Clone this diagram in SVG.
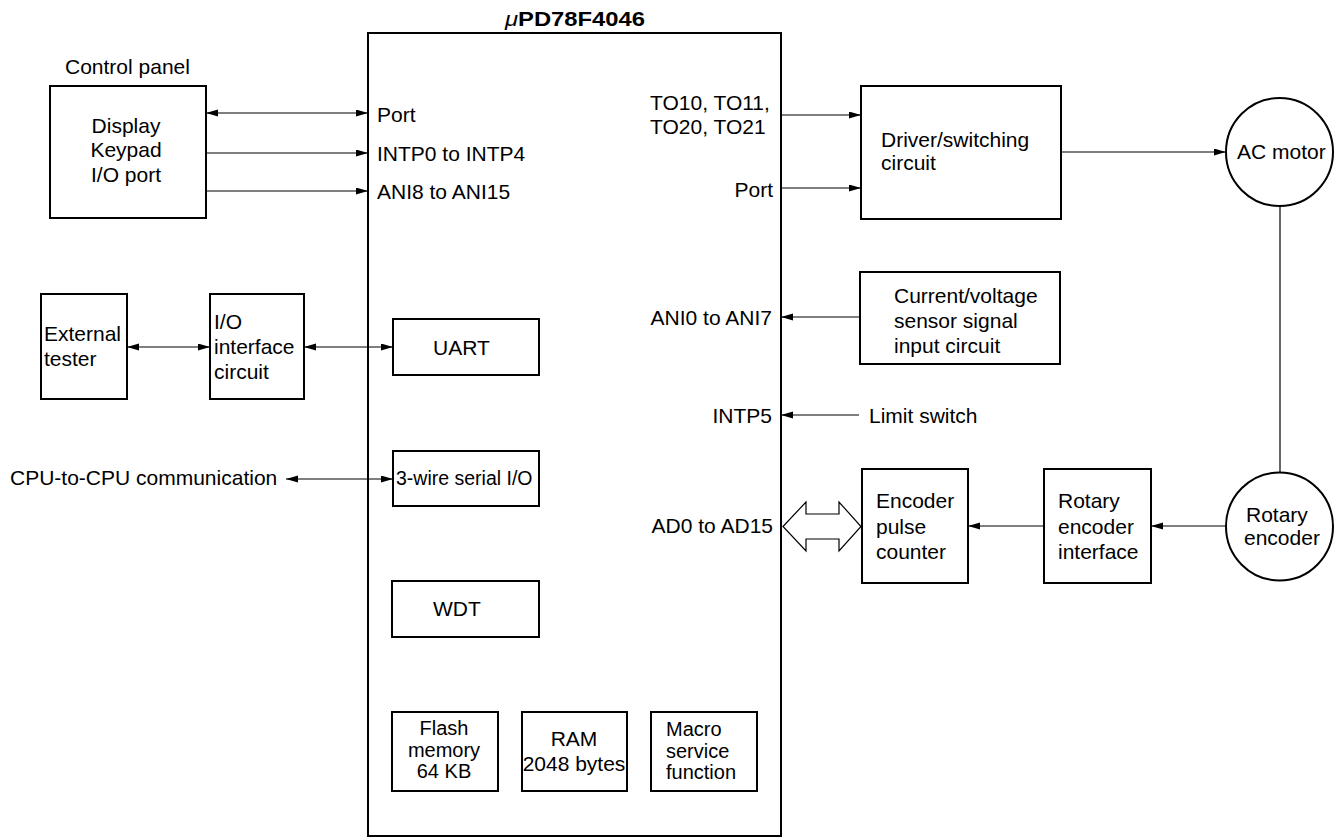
<svg xmlns="http://www.w3.org/2000/svg" width="1341" height="840" viewBox="0 0 1341 840">
<style>
  .box { fill: #ffffff; stroke: #000000; stroke-width: 2; }
  .ell { fill: #ffffff; stroke: #000000; stroke-width: 2; }
  .ln { fill: none; stroke: #000000; stroke-width: 1.2; }
  .t { font-family: "Liberation Sans", Arial, sans-serif; font-size: 21px; fill: #000000; }
  .s { font-size: 20px; }
  .m { text-anchor: middle; }
  .e { text-anchor: end; }
  .title { font-family: "Liberation Sans", Arial, sans-serif; font-size: 21px; font-weight: bold; fill: #000000; }
</style>
<defs>
  <marker id="ah" markerUnits="userSpaceOnUse" markerWidth="13" markerHeight="8" refX="12" refY="3.5" orient="auto-start-reverse" viewBox="0 0 13 8">
    <path d="M0,0 L12,3.5 L0,7 Z" fill="#000000"/>
  </marker>
</defs>
<rect width="1341" height="840" fill="#ffffff"/>

<g id="mcu">
  <rect class="box" x="368" y="33" width="413" height="803"/>
  <text class="title" x="505" y="26" textLength="140" lengthAdjust="spacingAndGlyphs"><tspan font-style="italic" font-weight="normal">μ</tspan>PD78F4046</text>
  <text class="t" x="377" y="122">Port</text>
  <text class="t" x="377" y="161">INTP0 to INTP4</text>
  <text class="t" x="377" y="199">ANI8 to ANI15</text>
  <text class="t" x="650" y="110">TO10, TO11,</text>
  <text class="t" x="650" y="134">TO20, TO21</text>
  <text class="t e" x="773" y="197">Port</text>
  <text class="t e" x="772" y="325">ANI0 to ANI7</text>
  <text class="t e" x="772" y="423">INTP5</text>
  <text class="t e" x="773" y="533">AD0 to AD15</text>
</g>

<g id="uart">
  <rect class="box" x="393" y="319" width="146" height="56"/>
  <text class="t" x="433" y="355">UART</text>
</g>
<g id="sio">
  <rect class="box" x="393" y="451" width="146" height="55"/>
  <text class="t" x="396" y="485" style="font-size:19.5px">3-wire serial I/O</text>
</g>
<g id="wdt">
  <rect class="box" x="392" y="581" width="147" height="56"/>
  <text class="t" x="433" y="616">WDT</text>
</g>
<g id="flash">
  <rect class="box" x="392" y="712" width="106" height="79"/>
  <text class="t s m" x="444" y="735">Flash</text>
  <text class="t s m" x="444" y="757">memory</text>
  <text class="t s m" x="444" y="778">64 KB</text>
</g>
<g id="ram">
  <rect class="box" x="522" y="712" width="105" height="79"/>
  <text class="t m" x="574" y="746">RAM</text>
  <text class="t m" x="574" y="771">2048 bytes</text>
</g>
<g id="macro">
  <rect class="box" x="651" y="712" width="106" height="79"/>
  <text class="t s" x="666" y="736">Macro</text>
  <text class="t s" x="666" y="758">service</text>
  <text class="t s" x="666" y="779">function</text>
</g>

<g id="control-panel">
  <text class="t" x="65" y="74">Control panel</text>
  <rect class="box" x="50" y="86" width="156" height="132"/>
  <text class="t m" x="126" y="133">Display</text>
  <text class="t m" x="126" y="157">Keypad</text>
  <text class="t m" x="126" y="182">I/O port</text>
</g>

<g id="external-tester">
  <rect class="box" x="41" y="294" width="86" height="105"/>
  <text class="t" x="44" y="341">External</text>
  <text class="t" x="44" y="366">tester</text>
</g>
<g id="io-interface">
  <rect class="box" x="210" y="294" width="94" height="105"/>
  <text class="t" x="214" y="329">I/O</text>
  <text class="t" x="214" y="354">interface</text>
  <text class="t" x="214" y="379">circuit</text>
</g>
<g id="cpu-comm">
  <text class="t" x="10" y="485">CPU-to-CPU communication</text>
</g>

<g id="driver">
  <rect class="box" x="861" y="86" width="200" height="133"/>
  <text class="t" x="881" y="147">Driver/switching</text>
  <text class="t" x="881" y="170">circuit</text>
</g>
<g id="ac-motor">
  <ellipse class="ell" cx="1279.5" cy="152" rx="53.5" ry="54"/>
  <text class="t" x="1237" y="159">AC motor</text>
</g>
<g id="sensor">
  <rect class="box" x="860" y="272" width="200" height="92"/>
  <text class="t" x="894" y="303">Current/voltage</text>
  <text class="t" x="894" y="328">sensor signal</text>
  <text class="t" x="894" y="353">input circuit</text>
</g>
<g id="limit-switch">
  <text class="t" x="869" y="423">Limit switch</text>
</g>
<g id="encoder-counter">
  <rect class="box" x="862" y="469" width="106" height="114"/>
  <text class="t" x="876" y="508">Encoder</text>
  <text class="t" x="876" y="534">pulse</text>
  <text class="t" x="876" y="559">counter</text>
</g>
<g id="encoder-interface">
  <rect class="box" x="1044" y="469" width="107" height="114"/>
  <text class="t" x="1058" y="508">Rotary</text>
  <text class="t" x="1058" y="534">encoder</text>
  <text class="t" x="1058" y="559">interface</text>
</g>
<g id="rotary-encoder">
  <ellipse class="ell" cx="1279.5" cy="526.5" rx="53.5" ry="54"/>
  <text class="t" x="1246" y="522">Rotary</text>
  <text class="t" x="1244" y="545">encoder</text>
</g>

<g id="connectors">
  <line class="ln" x1="206" y1="113" x2="368" y2="113" marker-start="url(#ah)" marker-end="url(#ah)"/>
  <line class="ln" x1="206" y1="153" x2="368" y2="153" marker-end="url(#ah)"/>
  <line class="ln" x1="206" y1="191" x2="368" y2="191" marker-end="url(#ah)"/>
  <line class="ln" x1="127" y1="347" x2="210" y2="347" marker-start="url(#ah)" marker-end="url(#ah)"/>
  <line class="ln" x1="304" y1="347" x2="393" y2="347" marker-start="url(#ah)" marker-end="url(#ah)"/>
  <line class="ln" x1="286" y1="479" x2="393" y2="479" marker-start="url(#ah)" marker-end="url(#ah)"/>
  <line class="ln" x1="781" y1="115" x2="861" y2="115" marker-end="url(#ah)"/>
  <line class="ln" x1="781" y1="188" x2="861" y2="188" marker-end="url(#ah)"/>
  <line class="ln" x1="1061" y1="152" x2="1226" y2="152" marker-end="url(#ah)"/>
  <line class="ln" x1="1280" y1="206" x2="1280" y2="473"/>
  <line class="ln" x1="860" y1="317" x2="781" y2="317" marker-end="url(#ah)"/>
  <line class="ln" x1="859" y1="415" x2="781" y2="415" marker-end="url(#ah)"/>
  <line class="ln" x1="1044" y1="526" x2="968" y2="526" marker-end="url(#ah)"/>
  <line class="ln" x1="1226" y1="526" x2="1151" y2="526" marker-end="url(#ah)"/>
  <path class="ln" d="M783,526.5 L806,502 L806,514 L839,514 L839,502 L861,526.5 L839,551 L839,539 L806,539 L806,551 Z" fill="#ffffff"/>
</g>
</svg>
